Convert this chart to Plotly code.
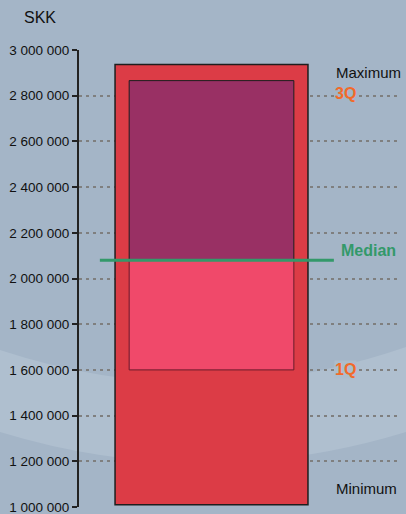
import plotly.graph_objects as go

# Data (SKK)
stat_labels = ["Minimum", "1Q", "Median", "3Q", "Maximum"]
minimum = 1010000
q1 = 1600000
median = 2080000
q3 = 2866000
maximum = 2936000
tick_vals = [1000000, 1200000, 1400000, 1600000, 1800000, 2000000,
             2200000, 2400000, 2600000, 2800000, 3000000]

W, H = 406, 514
ML, MR, MT, MB = 79, 6, 50, 7
PW, PH = W - ML - MR, H - MT - MB

def px_x(x):
    return (x - ML) / PW

def px_y(y):
    return (H - MB - y) / PH

fig = go.Figure()

# outer box (min -> max)
fig.add_trace(go.Bar(x=[0.4128], y=[maximum - minimum], base=[minimum], width=[0.601],
                     marker=dict(color="#dc3c46", line=dict(color="#1e1e1e", width=1.5)),
                     showlegend=False, hoverinfo="skip"))
# lower inner box (1Q -> median)
fig.add_trace(go.Bar(x=[0.4128], y=[median - q1], base=[q1], width=[0.513],
                     marker=dict(color="#f0496a", line=dict(color="#6a1a2a", width=1)),
                     showlegend=False, hoverinfo="skip"))
# upper inner box (median -> 3Q)
fig.add_trace(go.Bar(x=[0.4128], y=[q3 - median], base=[median], width=[0.513],
                     marker=dict(color="#993064", line=dict(color="#1e1e1e", width=1)),
                     showlegend=False, hoverinfo="skip"))
# median line
fig.add_trace(go.Scatter(x=[0.065, 0.794], y=[median, median], mode="lines",
                         line=dict(color="#33996a", width=3),
                         showlegend=False, hoverinfo="skip"))

# background band
x0, xm, x1 = px_x(0), px_x(203), px_x(406)
band = (f"M {x0},{px_y(350)} Q {xm},{px_y(417)} {x1},{px_y(347)} "
        f"L {x1},{px_y(432)} Q {xm},{px_y(494)} {x0},{px_y(432)} Z")
fig.add_shape(type="path", path=band, xref="paper", yref="paper",
              fillcolor="#afbfcf", line=dict(width=0), layer="below")

font = "Liberation Sans, Arial, sans-serif"
lx = 0.794
annos = [
    dict(text="Maximum", y=maximum, yshift=-8, color="#111111", bold=False, size=15, bg=None),
    dict(text="3Q", y=q3, yshift=-13, color="#f26a2a", bold=True, size=16, bg="#a4b5c7"),
    dict(text="Median", y=median, yshift=10, color="#33996a", bold=True, size=16, bg=None),
    dict(text="1Q", y=q1, yshift=0, color="#f26a2a", bold=True, size=16, bg="#adbdcd"),
    dict(text="Minimum", y=minimum, yshift=16, color="#111111", bold=False, size=15, bg=None),
]
for a in annos:
    t = f"<b>{a['text']}</b>" if a["bold"] else a["text"]
    xs = 5 if a["text"] == "Median" else 0
    kw = {}
    if a["bg"]:
        kw = dict(bgcolor=a["bg"], borderpad=0)
    fig.add_annotation(x=lx, y=a["y"], xref="x", yref="y", text=t, showarrow=False,
                       xanchor="left", yanchor="middle", yshift=a["yshift"], xshift=xs,
                       font=dict(family=font, size=a["size"], color=a["color"]), **kw)

fig.add_annotation(x=px_x(22), y=px_y(18), xref="paper", yref="paper", text="SKK",
                   showarrow=False, xanchor="left", yanchor="middle",
                   font=dict(family=font, size=16, color="#111111"))

fig.update_layout(
    width=W, height=H,
    margin=dict(l=ML, r=MR, t=MT, b=MB, autoexpand=False),
    paper_bgcolor="#a4b5c7",
    plot_bgcolor="rgba(0,0,0,0)",
    barmode="overlay",
    separators=". ",
    font=dict(family=font, size=13.5, color="#111111"),
    xaxis=dict(range=[0, 1], visible=False, fixedrange=True),
    yaxis=dict(range=[1000000, 3000000], tickvals=tick_vals, tickformat=",d",
               automargin=False,
               showgrid=True, gridcolor="#7f7f7f", griddash="3px,4px", gridwidth=2,
               showline=True, linecolor="#222222", linewidth=2,
               ticks="outside", ticklen=5, tickcolor="#222222", tickwidth=2,
               ticklabeloverflow="allow",
               zeroline=False, tickfont=dict(size=13.5, color="#111111")),
)

fig.write_html("out.html")
